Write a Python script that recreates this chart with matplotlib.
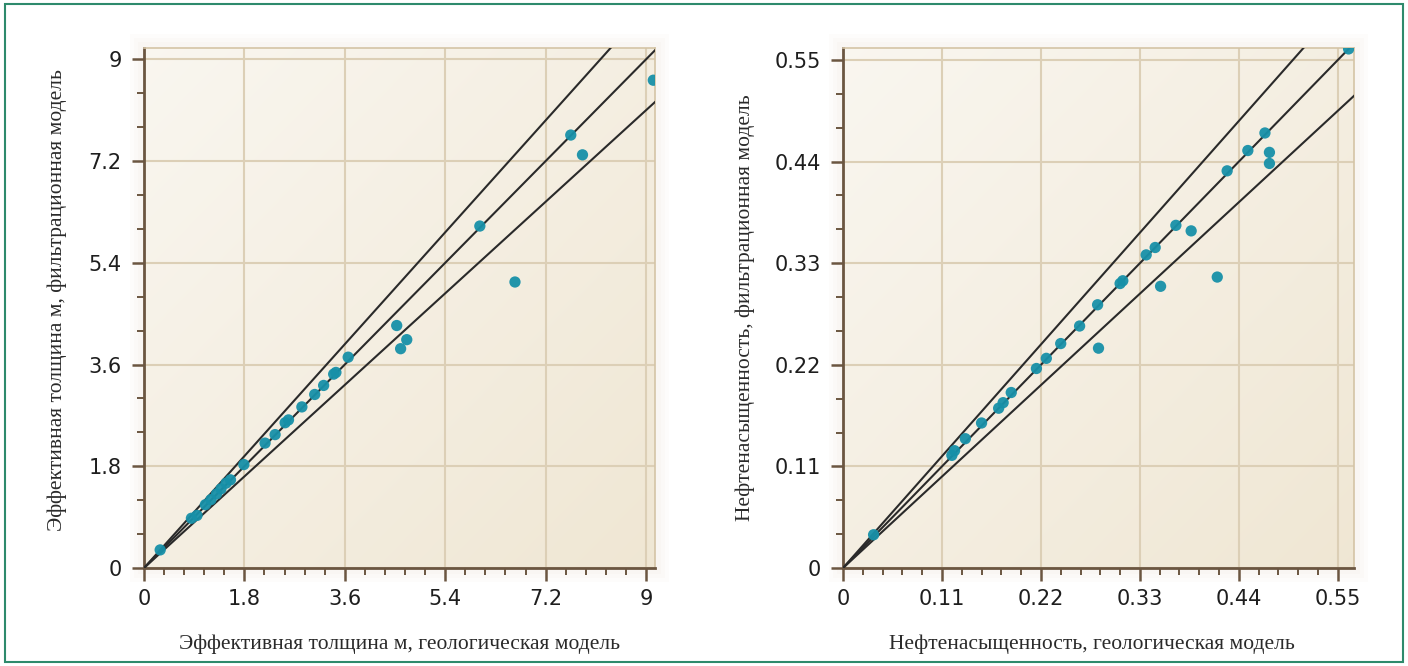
import numpy as np
import matplotlib.pyplot as plt
from matplotlib.ticker import FixedLocator, MultipleLocator
from matplotlib.patches import Rectangle

# Эффективная толщина, м: геологическая / фильтрационная модель
h_geo = [0.29, 0.85, 0.95, 1.10, 1.20, 1.30, 1.38, 1.47, 1.55, 1.79, 2.17, 2.35,
         2.53, 2.59, 2.83, 3.06, 3.22, 3.40, 3.44, 3.66, 4.53, 4.71, 4.60, 6.02,
         6.65, 7.65, 7.86, 9.13]
h_filt = [0.32, 0.88, 0.93, 1.12, 1.21, 1.31, 1.40, 1.50, 1.56, 1.83, 2.21, 2.36,
          2.57, 2.62, 2.85, 3.07, 3.23, 3.43, 3.46, 3.73, 4.29, 4.04, 3.88, 6.05,
          5.06, 7.66, 7.31, 8.63]

# Нефтенасыщенность: геологическая / фильтрационная модель
s_geo = [0.034, 0.121, 0.124, 0.136, 0.154, 0.173, 0.178, 0.187, 0.215, 0.226,
         0.242, 0.263, 0.283, 0.284, 0.308, 0.311, 0.337, 0.347, 0.353, 0.370,
         0.387, 0.416, 0.427, 0.450, 0.469, 0.474, 0.474, 0.562]
s_filt = [0.036, 0.122, 0.127, 0.140, 0.157, 0.173, 0.179, 0.190, 0.216, 0.227,
          0.243, 0.262, 0.285, 0.238, 0.308, 0.311, 0.339, 0.347, 0.305, 0.371,
          0.365, 0.315, 0.430, 0.452, 0.471, 0.450, 0.438, 0.562]

h_ticks = [0, 1.8, 3.6, 5.4, 7.2, 9]
h_tick_labels = ["0", "1.8", "3.6", "5.4", "7.2", "9"]
s_ticks = [0, 0.11, 0.22, 0.33, 0.44, 0.55]
s_tick_labels = ["0", "0.11", "0.22", "0.33", "0.44", "0.55"]

# коридор +-10% вокруг линии 1:1
band_slopes = [1.1, 1.0, 0.9]

POINT = "#1790a8"
LINE = "#2a2a2a"
GRID = "#dccfb6"
AXIS = "#6b5641"
FRAME = "#d4c4a6"


def draw_panel(ax, x, y, ticks, labels, xmax, ymax, xlabel, ylabel):
    # фон с диагональным градиентом
    g = np.linspace(0, 1, 256)
    gx, gy = np.meshgrid(g, g[::-1])
    t = np.clip((gx + (1 - gy)) / 2, 0, 1)
    c0 = np.array([0.978, 0.966, 0.940])
    c1 = np.array([0.940, 0.905, 0.830])
    img = c0 + (c1 - c0) * t[..., None]
    ax.imshow(img, extent=[0, 1, 0, 1], transform=ax.transAxes,
              aspect="auto", zorder=0, interpolation="bilinear")

    ax.set_xlim(0, xmax)
    ax.set_ylim(0, ymax)

    ax.xaxis.set_major_locator(FixedLocator(ticks))
    ax.yaxis.set_major_locator(FixedLocator(ticks))
    step = ticks[1] - ticks[0]
    ax.xaxis.set_minor_locator(MultipleLocator(step / 5))
    ax.yaxis.set_minor_locator(MultipleLocator(step / 3))
    ax.set_xticklabels(labels)
    ax.set_yticklabels(labels)

    ax.grid(True, which="major", color=GRID, lw=1.5, zorder=1)
    ax.set_axisbelow(True)

    xs = np.array([0, xmax * 1.2])
    for k in band_slopes:
        ax.plot(xs, k * xs, color=LINE, lw=1.5, zorder=3)

    ax.scatter(x, y, s=66, color=POINT, edgecolors="none", alpha=0.95,
               zorder=4)

    for side in ("left", "bottom"):
        ax.spines[side].set_color(AXIS)
        ax.spines[side].set_linewidth(2.0)
    for side in ("top", "right"):
        ax.spines[side].set_color(FRAME)
        ax.spines[side].set_linewidth(1.2)

    ax.tick_params(which="major", length=9, width=1.8, color=AXIS,
                   labelsize=15, labelcolor="#1e1e1e")
    ax.tick_params(axis="x", which="major", pad=6)
    ax.tick_params(axis="y", which="major", pad=7)
    ax.tick_params(which="minor", length=5, width=1.4, color=AXIS)
    for lab in ax.get_xticklabels() + ax.get_yticklabels():
        lab.set_family("DejaVu Sans")

    ax.set_xlabel(xlabel, family="Liberation Serif", fontsize=15.5, color="#2a2a2a")
    ax.set_ylabel(ylabel, family="Liberation Serif", fontsize=15.5, color="#2a2a2a")


fig = plt.figure(figsize=(14.08, 6.66), dpi=100)
W, H = 1408, 666

# рамка вокруг рисунка
fig.patches.append(Rectangle((5 / W, 4 / H), 1398 / W, 658 / H,
                             transform=fig.transFigure, fill=False,
                             edgecolor="#2e8a6c", lw=1.5))

ax1 = fig.add_axes([144 / W, 1 - 568 / H, 511 / W, 520 / H])
ax2 = fig.add_axes([843 / W, 1 - 568 / H, 511 / W, 520 / H])

# мягкая тень вокруг полей графиков
for ax in (ax1, ax2):
    bb = ax.get_position()
    for i, a in enumerate([0.035, 0.035, 0.035]):
        d = (14 - 4 * i)
        fig.patches.append(Rectangle((bb.x0 - d / W, bb.y0 - d / H),
                                     bb.width + 2 * d / W, bb.height + 2 * d / H,
                                     transform=fig.transFigure, color="#c8bba0",
                                     alpha=a, lw=0, zorder=-1))

draw_panel(ax1, h_geo, h_filt, h_ticks, h_tick_labels, 9.16, 9.2,
           "Эффективная толщина м, геологическая модель",
           "Эффективная толщина м, фильтрационная модель")
draw_panel(ax2, s_geo, s_filt, s_ticks, s_tick_labels, 0.568, 0.563,
           "Нефтенасыщенность, геологическая модель",
           "Нефтенасыщенность, фильтрационная модель")

ax1.yaxis.set_label_coords(-0.15, 0.515)
ax2.yaxis.set_label_coords(-0.172, 0.5)
ax1.xaxis.set_label_coords(0.5, -0.127)
ax2.xaxis.set_label_coords(0.487, -0.127)

fig.savefig("out.png", dpi=100)
